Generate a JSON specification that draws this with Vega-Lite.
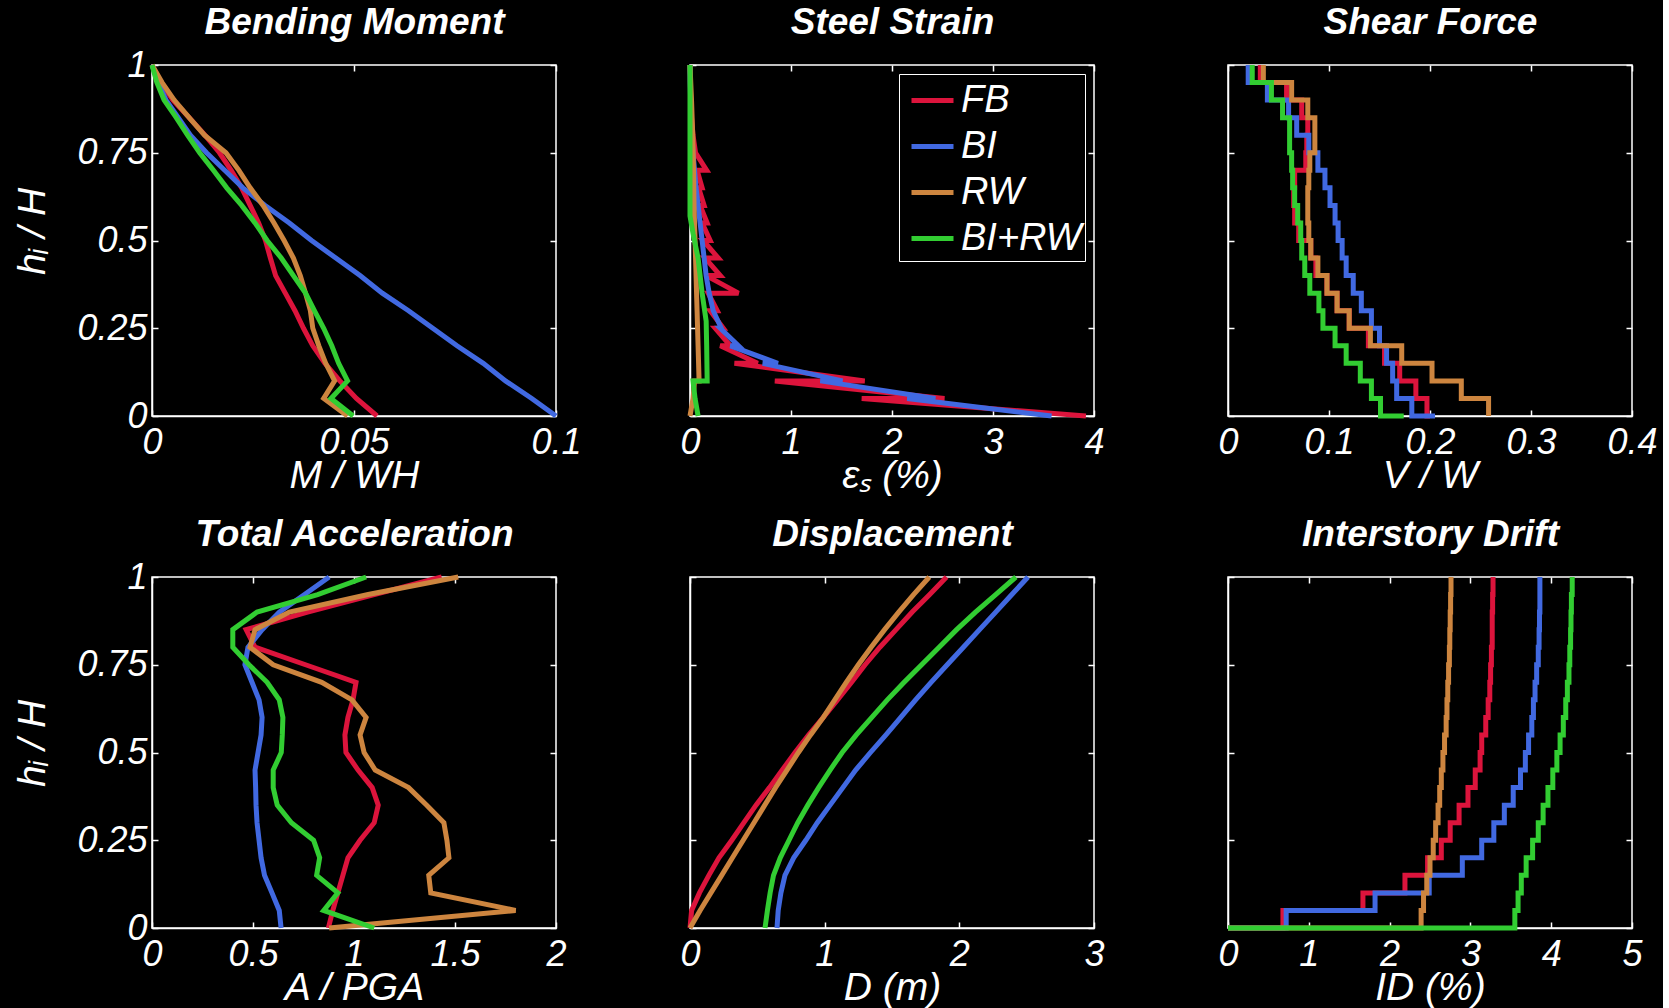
{
"$schema": "https://vega.github.io/schema/vega-lite/v6.json",
"background": "black",
"padding": {"left": 12, "top": 2, "right": 5, "bottom": 2},
"columns": 3,
"bounds": "flush",
"spacing": {"row": 161, "column": 134},
"resolve": {"scale": {"color": "independent"}, "legend": {"color": "independent"}},
"datasets": {
"bm": [
{"s":"FB","x":0.0557,"y":0},{"s":"FB","x":0.0506,"y":0.05},{"s":"FB","x":0.0465,"y":0.1},{"s":"FB","x":0.0428,"y":0.15},{"s":"FB","x":0.0398,"y":0.2},{"s":"FB","x":0.0375,"y":0.25},{"s":"FB","x":0.0354,"y":0.3},{"s":"FB","x":0.033,"y":0.35},{"s":"FB","x":0.0306,"y":0.4},{"s":"FB","x":0.0293,"y":0.45},{"s":"FB","x":0.0281,"y":0.5},{"s":"FB","x":0.0264,"y":0.55},{"s":"FB","x":0.0243,"y":0.6},{"s":"FB","x":0.0222,"y":0.65},{"s":"FB","x":0.0196,"y":0.7},{"s":"FB","x":0.0167,"y":0.75},{"s":"FB","x":0.0131,"y":0.8},{"s":"FB","x":0.0092,"y":0.85},{"s":"FB","x":0.0052,"y":0.9},{"s":"FB","x":0.0022,"y":0.95},{"s":"FB","x":0,"y":1},
{"s":"BI","x":0.1,"y":0},{"s":"BI","x":0.094,"y":0.05},{"s":"BI","x":0.0875,"y":0.1},{"s":"BI","x":0.082,"y":0.15},{"s":"BI","x":0.0755,"y":0.2},{"s":"BI","x":0.0695,"y":0.25},{"s":"BI","x":0.0635,"y":0.3},{"s":"BI","x":0.057,"y":0.35},{"s":"BI","x":0.0515,"y":0.4},{"s":"BI","x":0.0455,"y":0.45},{"s":"BI","x":0.0395,"y":0.5},{"s":"BI","x":0.034,"y":0.55},{"s":"BI","x":0.028,"y":0.6},{"s":"BI","x":0.0225,"y":0.65},{"s":"BI","x":0.018,"y":0.7},{"s":"BI","x":0.0135,"y":0.75},{"s":"BI","x":0.0095,"y":0.8},{"s":"BI","x":0.0065,"y":0.85},{"s":"BI","x":0.0035,"y":0.9},{"s":"BI","x":0.0015,"y":0.95},{"s":"BI","x":0,"y":1},
{"s":"RW","x":0.0484,"y":0},{"s":"RW","x":0.0425,"y":0.05},{"s":"RW","x":0.0452,"y":0.1},{"s":"RW","x":0.043,"y":0.15},{"s":"RW","x":0.0413,"y":0.2},{"s":"RW","x":0.0398,"y":0.25},{"s":"RW","x":0.0392,"y":0.3},{"s":"RW","x":0.038,"y":0.35},{"s":"RW","x":0.0367,"y":0.4},{"s":"RW","x":0.035,"y":0.45},{"s":"RW","x":0.0327,"y":0.5},{"s":"RW","x":0.0302,"y":0.55},{"s":"RW","x":0.0275,"y":0.6},{"s":"RW","x":0.0243,"y":0.65},{"s":"RW","x":0.0215,"y":0.7},{"s":"RW","x":0.0183,"y":0.75},{"s":"RW","x":0.013,"y":0.8},{"s":"RW","x":0.0092,"y":0.85},{"s":"RW","x":0.0055,"y":0.9},{"s":"RW","x":0.0025,"y":0.95},{"s":"RW","x":0,"y":1},
{"s":"BI+RW","x":0.0498,"y":0},{"s":"BI+RW","x":0.0443,"y":0.05},{"s":"BI+RW","x":0.0484,"y":0.1},{"s":"BI+RW","x":0.0462,"y":0.15},{"s":"BI+RW","x":0.0445,"y":0.2},{"s":"BI+RW","x":0.0425,"y":0.25},{"s":"BI+RW","x":0.0402,"y":0.3},{"s":"BI+RW","x":0.038,"y":0.35},{"s":"BI+RW","x":0.035,"y":0.4},{"s":"BI+RW","x":0.032,"y":0.45},{"s":"BI+RW","x":0.0285,"y":0.5},{"s":"BI+RW","x":0.0255,"y":0.55},{"s":"BI+RW","x":0.0222,"y":0.6},{"s":"BI+RW","x":0.0185,"y":0.65},{"s":"BI+RW","x":0.0152,"y":0.7},{"s":"BI+RW","x":0.0118,"y":0.75},{"s":"BI+RW","x":0.0088,"y":0.8},{"s":"BI+RW","x":0.006,"y":0.85},{"s":"BI+RW","x":0.003,"y":0.9},{"s":"BI+RW","x":0.0012,"y":0.95},{"s":"BI+RW","x":0,"y":1}
],
"ss": [
{"s":"FB","i":0,"x":3.92,"y":0},{"s":"FB","i":1,"x":1.70,"y":0.05},{"s":"FB","i":2,"x":2.52,"y":0.05},{"s":"FB","i":3,"x":0.84,"y":0.1},{"s":"FB","i":4,"x":1.73,"y":0.1},{"s":"FB","i":5,"x":0.44,"y":0.15},{"s":"FB","i":6,"x":0.67,"y":0.15},{"s":"FB","i":7,"x":0.30,"y":0.2},{"s":"FB","i":8,"x":0.40,"y":0.2},{"s":"FB","i":9,"x":0.25,"y":0.25},{"s":"FB","i":10,"x":0.33,"y":0.25},{"s":"FB","i":11,"x":0.20,"y":0.3},{"s":"FB","i":12,"x":0.27,"y":0.3},{"s":"FB","i":13,"x":0.18,"y":0.35},{"s":"FB","i":14,"x":0.48,"y":0.35},{"s":"FB","i":15,"x":0.16,"y":0.4},{"s":"FB","i":16,"x":0.30,"y":0.4},{"s":"FB","i":17,"x":0.15,"y":0.45},{"s":"FB","i":18,"x":0.28,"y":0.45},{"s":"FB","i":19,"x":0.13,"y":0.5},{"s":"FB","i":20,"x":0.20,"y":0.5},{"s":"FB","i":21,"x":0.12,"y":0.55},{"s":"FB","i":22,"x":0.17,"y":0.55},{"s":"FB","i":23,"x":0.10,"y":0.6},{"s":"FB","i":24,"x":0.14,"y":0.6},{"s":"FB","i":25,"x":0.085,"y":0.65},{"s":"FB","i":26,"x":0.12,"y":0.65},{"s":"FB","i":27,"x":0.07,"y":0.7},{"s":"FB","i":28,"x":0.165,"y":0.7},{"s":"FB","i":29,"x":0.055,"y":0.75},{"s":"FB","i":30,"x":0.03,"y":0.8},{"s":"FB","i":31,"x":0.015,"y":0.85},{"s":"FB","i":32,"x":0.008,"y":0.9},{"s":"FB","i":33,"x":0.003,"y":0.95},{"s":"FB","i":34,"x":0,"y":1},
{"s":"BI","i":0,"x":3.58,"y":0},{"s":"BI","i":1,"x":2.15,"y":0.05},{"s":"BI","i":2,"x":2.43,"y":0.05},{"s":"BI","i":3,"x":1.29,"y":0.1},{"s":"BI","i":4,"x":1.51,"y":0.1},{"s":"BI","i":5,"x":0.72,"y":0.15},{"s":"BI","i":6,"x":0.87,"y":0.15},{"s":"BI","i":7,"x":0.40,"y":0.2},{"s":"BI","i":8,"x":0.48,"y":0.2},{"s":"BI","i":9,"x":0.30,"y":0.25},{"s":"BI","i":10,"x":0.31,"y":0.25},{"s":"BI","i":11,"x":0.23,"y":0.3},{"s":"BI","i":12,"x":0.19,"y":0.35},{"s":"BI","i":13,"x":0.16,"y":0.4},{"s":"BI","i":14,"x":0.14,"y":0.45},{"s":"BI","i":15,"x":0.12,"y":0.5},{"s":"BI","i":16,"x":0.10,"y":0.55},{"s":"BI","i":17,"x":0.08,"y":0.6},{"s":"BI","i":18,"x":0.06,"y":0.65},{"s":"BI","i":19,"x":0.045,"y":0.7},{"s":"BI","i":20,"x":0.03,"y":0.75},{"s":"BI","i":21,"x":0.02,"y":0.8},{"s":"BI","i":22,"x":0.012,"y":0.85},{"s":"BI","i":23,"x":0.006,"y":0.9},{"s":"BI","i":24,"x":0.002,"y":0.95},{"s":"BI","i":25,"x":0,"y":1},
{"s":"RW","i":0,"x":0,"y":0},{"s":"RW","i":1,"x":0.03,"y":0.05},{"s":"RW","i":2,"x":0.045,"y":0.1},{"s":"RW","i":3,"x":0.09,"y":0.1},{"s":"RW","i":4,"x":0.08,"y":0.2},{"s":"RW","i":5,"x":0.07,"y":0.3},{"s":"RW","i":6,"x":0.06,"y":0.4},{"s":"RW","i":7,"x":0.05,"y":0.5},{"s":"RW","i":8,"x":0.04,"y":0.6},{"s":"RW","i":9,"x":0.035,"y":0.7},{"s":"RW","i":10,"x":0.027,"y":0.8},{"s":"RW","i":11,"x":0.015,"y":0.9},{"s":"RW","i":12,"x":0,"y":1},
{"s":"BI+RW","i":0,"x":0.08,"y":0},{"s":"BI+RW","i":1,"x":0.05,"y":0.05},{"s":"BI+RW","i":2,"x":0.03,"y":0.1},{"s":"BI+RW","i":3,"x":0.17,"y":0.1},{"s":"BI+RW","i":4,"x":0.165,"y":0.2},{"s":"BI+RW","i":5,"x":0.16,"y":0.27},{"s":"BI+RW","i":6,"x":0.12,"y":0.35},{"s":"BI+RW","i":7,"x":0.08,"y":0.45},{"s":"BI+RW","i":8,"x":0.03,"y":0.52},{"s":"BI+RW","i":9,"x":0,"y":0.57},{"s":"BI+RW","i":10,"x":0,"y":1}
],
"sf": [
{"s":"FB","i":0,"x":0.200,"y":0},{"s":"FB","i":1,"x":0.197,"y":0},{"s":"FB","i":2,"x":0.186,"y":0.05},{"s":"FB","i":3,"x":0.170,"y":0.1},{"s":"FB","i":4,"x":0.155,"y":0.15},{"s":"FB","i":5,"x":0.139,"y":0.2},{"s":"FB","i":6,"x":0.120,"y":0.25},{"s":"FB","i":7,"x":0.108,"y":0.3},{"s":"FB","i":8,"x":0.098,"y":0.35},{"s":"FB","i":9,"x":0.087,"y":0.4},{"s":"FB","i":10,"x":0.082,"y":0.45},{"s":"FB","i":11,"x":0.070,"y":0.5},{"s":"FB","i":12,"x":0.066,"y":0.55},{"s":"FB","i":13,"x":0.065,"y":0.6},{"s":"FB","i":14,"x":0.066,"y":0.65},{"s":"FB","i":15,"x":0.077,"y":0.7},{"s":"FB","i":16,"x":0.078,"y":0.75},{"s":"FB","i":17,"x":0.079,"y":0.8},{"s":"FB","i":18,"x":0.073,"y":0.85},{"s":"FB","i":19,"x":0.058,"y":0.9},{"s":"FB","i":20,"x":0.032,"y":0.95},{"s":"FB","i":21,"x":0.032,"y":1},
{"s":"BI","i":0,"x":0.205,"y":0},{"s":"BI","i":1,"x":0.182,"y":0},{"s":"BI","i":2,"x":0.167,"y":0.05},{"s":"BI","i":3,"x":0.163,"y":0.1},{"s":"BI","i":4,"x":0.157,"y":0.15},{"s":"BI","i":5,"x":0.150,"y":0.2},{"s":"BI","i":6,"x":0.142,"y":0.25},{"s":"BI","i":7,"x":0.132,"y":0.3},{"s":"BI","i":8,"x":0.124,"y":0.35},{"s":"BI","i":9,"x":0.117,"y":0.4},{"s":"BI","i":10,"x":0.113,"y":0.45},{"s":"BI","i":11,"x":0.109,"y":0.5},{"s":"BI","i":12,"x":0.106,"y":0.55},{"s":"BI","i":13,"x":0.101,"y":0.6},{"s":"BI","i":14,"x":0.096,"y":0.65},{"s":"BI","i":15,"x":0.089,"y":0.7},{"s":"BI","i":16,"x":0.080,"y":0.75},{"s":"BI","i":17,"x":0.068,"y":0.8},{"s":"BI","i":18,"x":0.060,"y":0.85},{"s":"BI","i":19,"x":0.039,"y":0.9},{"s":"BI","i":20,"x":0.020,"y":0.95},{"s":"BI","i":21,"x":0.020,"y":1},
{"s":"RW","i":0,"x":0.258,"y":0},{"s":"RW","i":1,"x":0.258,"y":0},{"s":"RW","i":2,"x":0.231,"y":0.05},{"s":"RW","i":3,"x":0.202,"y":0.1},{"s":"RW","i":4,"x":0.172,"y":0.15},{"s":"RW","i":5,"x":0.141,"y":0.2},{"s":"RW","i":6,"x":0.120,"y":0.25},{"s":"RW","i":7,"x":0.108,"y":0.3},{"s":"RW","i":8,"x":0.098,"y":0.35},{"s":"RW","i":9,"x":0.089,"y":0.4},{"s":"RW","i":10,"x":0.082,"y":0.45},{"s":"RW","i":11,"x":0.080,"y":0.5},{"s":"RW","i":12,"x":0.079,"y":0.55},{"s":"RW","i":13,"x":0.079,"y":0.6},{"s":"RW","i":14,"x":0.080,"y":0.65},{"s":"RW","i":15,"x":0.081,"y":0.7},{"s":"RW","i":16,"x":0.086,"y":0.75},{"s":"RW","i":17,"x":0.086,"y":0.8},{"s":"RW","i":18,"x":0.079,"y":0.85},{"s":"RW","i":19,"x":0.063,"y":0.9},{"s":"RW","i":20,"x":0.035,"y":0.95},{"s":"RW","i":21,"x":0.035,"y":1},
{"s":"BI+RW","i":0,"x":0.174,"y":0},{"s":"BI+RW","i":1,"x":0.151,"y":0},{"s":"BI+RW","i":2,"x":0.142,"y":0.05},{"s":"BI+RW","i":3,"x":0.131,"y":0.1},{"s":"BI+RW","i":4,"x":0.117,"y":0.15},{"s":"BI+RW","i":5,"x":0.106,"y":0.2},{"s":"BI+RW","i":6,"x":0.094,"y":0.25},{"s":"BI+RW","i":7,"x":0.090,"y":0.3},{"s":"BI+RW","i":8,"x":0.081,"y":0.35},{"s":"BI+RW","i":9,"x":0.076,"y":0.4},{"s":"BI+RW","i":10,"x":0.073,"y":0.45},{"s":"BI+RW","i":11,"x":0.072,"y":0.5},{"s":"BI+RW","i":12,"x":0.069,"y":0.55},{"s":"BI+RW","i":13,"x":0.066,"y":0.6},{"s":"BI+RW","i":14,"x":0.064,"y":0.65},{"s":"BI+RW","i":15,"x":0.063,"y":0.7},{"s":"BI+RW","i":16,"x":0.061,"y":0.75},{"s":"BI+RW","i":17,"x":0.061,"y":0.8},{"s":"BI+RW","i":18,"x":0.054,"y":0.85},{"s":"BI+RW","i":19,"x":0.043,"y":0.9},{"s":"BI+RW","i":20,"x":0.024,"y":0.95},{"s":"BI+RW","i":21,"x":0.024,"y":1}
],
"ta": [
{"s":"FB","x":0.873,"y":0},{"s":"FB","x":0.895,"y":0.05},{"s":"FB","x":0.92,"y":0.1},{"s":"FB","x":0.945,"y":0.15},{"s":"FB","x":0.97,"y":0.2},{"s":"FB","x":1.03,"y":0.25},{"s":"FB","x":1.10,"y":0.3},{"s":"FB","x":1.12,"y":0.35},{"s":"FB","x":1.09,"y":0.4},{"s":"FB","x":1.02,"y":0.45},{"s":"FB","x":0.96,"y":0.5},{"s":"FB","x":0.955,"y":0.55},{"s":"FB","x":0.97,"y":0.6},{"s":"FB","x":0.995,"y":0.65},{"s":"FB","x":1.01,"y":0.7},{"s":"FB","x":0.76,"y":0.75},{"s":"FB","x":0.51,"y":0.8},{"s":"FB","x":0.466,"y":0.85},{"s":"FB","x":0.77,"y":0.9},{"s":"FB","x":1.10,"y":0.95},{"s":"FB","x":1.434,"y":1},
{"s":"BI","x":0.639,"y":0},{"s":"BI","x":0.63,"y":0.05},{"s":"BI","x":0.594,"y":0.1},{"s":"BI","x":0.557,"y":0.15},{"s":"BI","x":0.54,"y":0.2},{"s":"BI","x":0.53,"y":0.25},{"s":"BI","x":0.52,"y":0.3},{"s":"BI","x":0.515,"y":0.35},{"s":"BI","x":0.513,"y":0.4},{"s":"BI","x":0.51,"y":0.45},{"s":"BI","x":0.525,"y":0.5},{"s":"BI","x":0.54,"y":0.55},{"s":"BI","x":0.545,"y":0.6},{"s":"BI","x":0.53,"y":0.65},{"s":"BI","x":0.495,"y":0.7},{"s":"BI","x":0.46,"y":0.75},{"s":"BI","x":0.475,"y":0.8},{"s":"BI","x":0.545,"y":0.85},{"s":"BI","x":0.63,"y":0.9},{"s":"BI","x":0.755,"y":0.95},{"s":"BI","x":0.877,"y":1},
{"s":"RW","x":0.877,"y":0},{"s":"RW","x":1.80,"y":0.05},{"s":"RW","x":1.38,"y":0.1},{"s":"RW","x":1.37,"y":0.15},{"s":"RW","x":1.47,"y":0.2},{"s":"RW","x":1.46,"y":0.25},{"s":"RW","x":1.445,"y":0.3},{"s":"RW","x":1.36,"y":0.35},{"s":"RW","x":1.27,"y":0.4},{"s":"RW","x":1.105,"y":0.45},{"s":"RW","x":1.05,"y":0.5},{"s":"RW","x":1.03,"y":0.55},{"s":"RW","x":1.06,"y":0.6},{"s":"RW","x":0.99,"y":0.65},{"s":"RW","x":0.84,"y":0.7},{"s":"RW","x":0.60,"y":0.75},{"s":"RW","x":0.485,"y":0.8},{"s":"RW","x":0.51,"y":0.85},{"s":"RW","x":0.68,"y":0.9},{"s":"RW","x":1.07,"y":0.95},{"s":"RW","x":1.516,"y":1},
{"s":"BI+RW","x":1.10,"y":0},{"s":"BI+RW","x":0.85,"y":0.05},{"s":"BI+RW","x":0.92,"y":0.1},{"s":"BI+RW","x":0.815,"y":0.15},{"s":"BI+RW","x":0.83,"y":0.2},{"s":"BI+RW","x":0.80,"y":0.25},{"s":"BI+RW","x":0.69,"y":0.3},{"s":"BI+RW","x":0.62,"y":0.35},{"s":"BI+RW","x":0.60,"y":0.4},{"s":"BI+RW","x":0.60,"y":0.45},{"s":"BI+RW","x":0.64,"y":0.5},{"s":"BI+RW","x":0.645,"y":0.55},{"s":"BI+RW","x":0.648,"y":0.6},{"s":"BI+RW","x":0.63,"y":0.65},{"s":"BI+RW","x":0.57,"y":0.7},{"s":"BI+RW","x":0.48,"y":0.75},{"s":"BI+RW","x":0.40,"y":0.8},{"s":"BI+RW","x":0.40,"y":0.85},{"s":"BI+RW","x":0.52,"y":0.9},{"s":"BI+RW","x":0.82,"y":0.95},{"s":"BI+RW","x":1.06,"y":1}
],
"dp": [
{"s":"FB","x":0,"y":0},{"s":"FB","x":0.012,"y":0.05},{"s":"FB","x":0.07,"y":0.1},{"s":"FB","x":0.14,"y":0.15},{"s":"FB","x":0.215,"y":0.2},{"s":"FB","x":0.31,"y":0.25},{"s":"FB","x":0.40,"y":0.3},{"s":"FB","x":0.49,"y":0.35},{"s":"FB","x":0.59,"y":0.4},{"s":"FB","x":0.685,"y":0.45},{"s":"FB","x":0.78,"y":0.5},{"s":"FB","x":0.88,"y":0.55},{"s":"FB","x":0.99,"y":0.6},{"s":"FB","x":1.095,"y":0.65},{"s":"FB","x":1.20,"y":0.7},{"s":"FB","x":1.30,"y":0.75},{"s":"FB","x":1.41,"y":0.8},{"s":"FB","x":1.53,"y":0.85},{"s":"FB","x":1.65,"y":0.9},{"s":"FB","x":1.78,"y":0.95},{"s":"FB","x":1.905,"y":1},
{"s":"BI","x":0.646,"y":0},{"s":"BI","x":0.655,"y":0.05},{"s":"BI","x":0.675,"y":0.1},{"s":"BI","x":0.705,"y":0.15},{"s":"BI","x":0.77,"y":0.2},{"s":"BI","x":0.86,"y":0.25},{"s":"BI","x":0.945,"y":0.3},{"s":"BI","x":1.04,"y":0.35},{"s":"BI","x":1.135,"y":0.4},{"s":"BI","x":1.23,"y":0.45},{"s":"BI","x":1.34,"y":0.5},{"s":"BI","x":1.455,"y":0.55},{"s":"BI","x":1.565,"y":0.6},{"s":"BI","x":1.675,"y":0.65},{"s":"BI","x":1.79,"y":0.7},{"s":"BI","x":1.91,"y":0.75},{"s":"BI","x":2.03,"y":0.8},{"s":"BI","x":2.15,"y":0.85},{"s":"BI","x":2.27,"y":0.9},{"s":"BI","x":2.39,"y":0.95},{"s":"BI","x":2.51,"y":1},
{"s":"RW","x":0,"y":0},{"s":"RW","x":0.075,"y":0.05},{"s":"RW","x":0.155,"y":0.1},{"s":"RW","x":0.235,"y":0.15},{"s":"RW","x":0.315,"y":0.2},{"s":"RW","x":0.395,"y":0.25},{"s":"RW","x":0.475,"y":0.3},{"s":"RW","x":0.555,"y":0.35},{"s":"RW","x":0.635,"y":0.4},{"s":"RW","x":0.72,"y":0.45},{"s":"RW","x":0.805,"y":0.5},{"s":"RW","x":0.895,"y":0.55},{"s":"RW","x":0.99,"y":0.6},{"s":"RW","x":1.075,"y":0.65},{"s":"RW","x":1.16,"y":0.7},{"s":"RW","x":1.25,"y":0.75},{"s":"RW","x":1.345,"y":0.8},{"s":"RW","x":1.445,"y":0.85},{"s":"RW","x":1.55,"y":0.9},{"s":"RW","x":1.66,"y":0.95},{"s":"RW","x":1.777,"y":1},
{"s":"BI+RW","x":0.557,"y":0},{"s":"BI+RW","x":0.575,"y":0.05},{"s":"BI+RW","x":0.595,"y":0.1},{"s":"BI+RW","x":0.62,"y":0.15},{"s":"BI+RW","x":0.67,"y":0.2},{"s":"BI+RW","x":0.735,"y":0.25},{"s":"BI+RW","x":0.80,"y":0.3},{"s":"BI+RW","x":0.875,"y":0.35},{"s":"BI+RW","x":0.955,"y":0.4},{"s":"BI+RW","x":1.04,"y":0.45},{"s":"BI+RW","x":1.13,"y":0.5},{"s":"BI+RW","x":1.235,"y":0.55},{"s":"BI+RW","x":1.35,"y":0.6},{"s":"BI+RW","x":1.465,"y":0.65},{"s":"BI+RW","x":1.59,"y":0.7},{"s":"BI+RW","x":1.72,"y":0.75},{"s":"BI+RW","x":1.85,"y":0.8},{"s":"BI+RW","x":1.98,"y":0.85},{"s":"BI+RW","x":2.12,"y":0.9},{"s":"BI+RW","x":2.27,"y":0.95},{"s":"BI+RW","x":2.42,"y":1}
],
"id": [
{"s":"FB","i":0,"x":0,"y":0},{"s":"FB","i":1,"x":0.68,"y":0},{"s":"FB","i":2,"x":1.67,"y":0.05},{"s":"FB","i":3,"x":2.19,"y":0.1},{"s":"FB","i":4,"x":2.47,"y":0.15},{"s":"FB","i":5,"x":2.64,"y":0.2},{"s":"FB","i":6,"x":2.75,"y":0.25},{"s":"FB","i":7,"x":2.86,"y":0.3},{"s":"FB","i":8,"x":2.97,"y":0.35},{"s":"FB","i":9,"x":3.06,"y":0.4},{"s":"FB","i":10,"x":3.12,"y":0.45},{"s":"FB","i":11,"x":3.14,"y":0.5},{"s":"FB","i":12,"x":3.19,"y":0.55},{"s":"FB","i":13,"x":3.22,"y":0.6},{"s":"FB","i":14,"x":3.24,"y":0.65},{"s":"FB","i":15,"x":3.25,"y":0.7},{"s":"FB","i":16,"x":3.26,"y":0.75},{"s":"FB","i":17,"x":3.27,"y":0.8},{"s":"FB","i":18,"x":3.27,"y":0.85},{"s":"FB","i":19,"x":3.275,"y":0.9},{"s":"FB","i":20,"x":3.28,"y":0.95},{"s":"FB","i":21,"x":3.28,"y":1},
{"s":"BI","i":0,"x":0,"y":0},{"s":"BI","i":1,"x":0.72,"y":0},{"s":"BI","i":2,"x":1.82,"y":0.05},{"s":"BI","i":3,"x":2.49,"y":0.1},{"s":"BI","i":4,"x":2.90,"y":0.15},{"s":"BI","i":5,"x":3.14,"y":0.2},{"s":"BI","i":6,"x":3.29,"y":0.25},{"s":"BI","i":7,"x":3.42,"y":0.3},{"s":"BI","i":8,"x":3.53,"y":0.35},{"s":"BI","i":9,"x":3.62,"y":0.4},{"s":"BI","i":10,"x":3.68,"y":0.45},{"s":"BI","i":11,"x":3.72,"y":0.5},{"s":"BI","i":12,"x":3.76,"y":0.55},{"s":"BI","i":13,"x":3.78,"y":0.6},{"s":"BI","i":14,"x":3.80,"y":0.65},{"s":"BI","i":15,"x":3.82,"y":0.7},{"s":"BI","i":16,"x":3.84,"y":0.75},{"s":"BI","i":17,"x":3.85,"y":0.8},{"s":"BI","i":18,"x":3.855,"y":0.85},{"s":"BI","i":19,"x":3.86,"y":0.9},{"s":"BI","i":20,"x":3.86,"y":0.95},{"s":"BI","i":21,"x":3.86,"y":1},
{"s":"RW","i":0,"x":0,"y":0},{"s":"RW","i":1,"x":2.39,"y":0},{"s":"RW","i":2,"x":2.42,"y":0.05},{"s":"RW","i":3,"x":2.46,"y":0.1},{"s":"RW","i":4,"x":2.50,"y":0.15},{"s":"RW","i":5,"x":2.54,"y":0.2},{"s":"RW","i":6,"x":2.57,"y":0.25},{"s":"RW","i":7,"x":2.60,"y":0.3},{"s":"RW","i":8,"x":2.62,"y":0.35},{"s":"RW","i":9,"x":2.64,"y":0.4},{"s":"RW","i":10,"x":2.66,"y":0.45},{"s":"RW","i":11,"x":2.68,"y":0.5},{"s":"RW","i":12,"x":2.70,"y":0.55},{"s":"RW","i":13,"x":2.71,"y":0.6},{"s":"RW","i":14,"x":2.72,"y":0.65},{"s":"RW","i":15,"x":2.73,"y":0.7},{"s":"RW","i":16,"x":2.74,"y":0.75},{"s":"RW","i":17,"x":2.745,"y":0.8},{"s":"RW","i":18,"x":2.75,"y":0.85},{"s":"RW","i":19,"x":2.755,"y":0.9},{"s":"RW","i":20,"x":2.76,"y":0.95},{"s":"RW","i":21,"x":2.76,"y":1},
{"s":"BI+RW","i":0,"x":0,"y":0},{"s":"BI+RW","i":1,"x":3.55,"y":0},{"s":"BI+RW","i":2,"x":3.59,"y":0.05},{"s":"BI+RW","i":3,"x":3.63,"y":0.1},{"s":"BI+RW","i":4,"x":3.69,"y":0.15},{"s":"BI+RW","i":5,"x":3.77,"y":0.2},{"s":"BI+RW","i":6,"x":3.84,"y":0.25},{"s":"BI+RW","i":7,"x":3.90,"y":0.3},{"s":"BI+RW","i":8,"x":3.96,"y":0.35},{"s":"BI+RW","i":9,"x":4.02,"y":0.4},{"s":"BI+RW","i":10,"x":4.07,"y":0.45},{"s":"BI+RW","i":11,"x":4.11,"y":0.5},{"s":"BI+RW","i":12,"x":4.15,"y":0.55},{"s":"BI+RW","i":13,"x":4.18,"y":0.6},{"s":"BI+RW","i":14,"x":4.20,"y":0.65},{"s":"BI+RW","i":15,"x":4.22,"y":0.7},{"s":"BI+RW","i":16,"x":4.23,"y":0.75},{"s":"BI+RW","i":17,"x":4.24,"y":0.8},{"s":"BI+RW","i":18,"x":4.245,"y":0.85},{"s":"BI+RW","i":19,"x":4.25,"y":0.9},{"s":"BI+RW","i":20,"x":4.26,"y":0.95},{"s":"BI+RW","i":21,"x":4.26,"y":1}
]
},
"concat": [
{
"width": 404, "height": 351, "data": {"name": "bm"},
"layer": [
{"mark": {"type": "line", "strokeWidth": 5},
"encoding": {
"x": {"field": "x", "type": "quantitative", "scale": {"domain": [0, 0.1], "nice": false, "zero": false}, "axis": {"values": [0, 0.05, 0.1], "format": ".4~g", "title": "M / WH", "titleX": 202, "titleY": 71}},
"y": {"field": "y", "type": "quantitative", "scale": {"domain": [0, 1], "nice": false}, "axis": {"values": [0, 0.25, 0.5, 0.75, 1], "format": ".4~g", "title": "hᵢ / H", "titleX": -108, "titleY": 166}},
"color": {"field": "s", "type": "nominal", "scale": {"domain": ["FB", "BI", "RW", "BI+RW"], "range": ["#DC143C", "#4169E1", "#CD853F", "#32CD32"]}, "legend": null},
"order": {"field": "y", "type": "quantitative"}}},
{"mark": {"type": "line", "opacity": 0},
"encoding": {
"x": {"field": "x", "type": "quantitative", "axis": {"orient": "top", "values": [0, 0.05, 0.1], "labels": false, "domain": false, "title": "Bending Moment", "titleX": 202, "titleY": -32, "titleFontWeight": "bold", "titleFontSize": 37, "titleAlign": "center", "titleAngle": 0}},
"y": {"field": "y", "type": "quantitative", "axis": {"orient": "right", "values": [0, 0.25, 0.5, 0.75, 1], "labels": false, "title": null, "domain": false}}}}
],
"resolve": {"axis": {"x": "independent", "y": "independent"}}
},
{
"width": 404, "height": 351, "data": {"name": "ss"},
"layer": [
{"mark": {"type": "line", "strokeWidth": 5},
"encoding": {
"x": {"field": "x", "type": "quantitative", "scale": {"domain": [0, 4], "nice": false, "zero": false}, "axis": {"values": [0, 1, 2, 3, 4], "format": ".4~g", "title": "εₛ (%)", "titleX": 202, "titleY": 71}},
"y": {"field": "y", "type": "quantitative", "scale": {"domain": [0, 1], "nice": false}, "axis": {"values": [0, 0.25, 0.5, 0.75, 1], "labels": false, "title": null}},
"color": {"field": "s", "type": "nominal", "scale": {"domain": ["FB", "BI", "RW", "BI+RW"], "range": ["#DC143C", "#4169E1", "#CD853F", "#32CD32"]},
 "legend": {"orient": "top-right", "offset": 9, "title": null, "strokeColor": "white", "fillColor": "black", "padding": 3, "rowPadding": 3, "symbolOffset": 7, "labelOffset": 5, "symbolType": "stroke", "symbolStrokeWidth": 5, "symbolSize": 1764, "labelFontSize": 38, "labelFont": "Liberation Sans", "labelFontStyle": "italic", "labelColor": "white"}},
"order": {"field": "i", "type": "quantitative"}}},
{"mark": {"type": "line", "opacity": 0},
"encoding": {
"x": {"field": "x", "type": "quantitative", "axis": {"orient": "top", "values": [0, 1, 2, 3, 4], "labels": false, "domain": false, "title": "Steel Strain", "titleX": 202, "titleY": -32, "titleFontWeight": "bold", "titleFontSize": 37, "titleAlign": "center", "titleAngle": 0}},
"y": {"field": "y", "type": "quantitative", "axis": {"orient": "right", "values": [0, 0.25, 0.5, 0.75, 1], "labels": false, "title": null, "domain": false}}}}
],
"resolve": {"axis": {"x": "independent", "y": "independent"}}
},
{
"width": 404, "height": 351, "data": {"name": "sf"},
"layer": [
{"mark": {"type": "line", "strokeWidth": 5, "interpolate": "step-before"},
"encoding": {
"x": {"field": "x", "type": "quantitative", "scale": {"domain": [0, 0.4], "nice": false, "zero": false}, "axis": {"values": [0, 0.1, 0.2, 0.3, 0.4], "format": ".4~g", "title": "V / W", "titleX": 202, "titleY": 71}},
"y": {"field": "y", "type": "quantitative", "scale": {"domain": [0, 1], "nice": false}, "axis": {"values": [0, 0.25, 0.5, 0.75, 1], "labels": false, "title": null}},
"color": {"field": "s", "type": "nominal", "scale": {"domain": ["FB", "BI", "RW", "BI+RW"], "range": ["#DC143C", "#4169E1", "#CD853F", "#32CD32"]}, "legend": null},
"order": {"field": "i", "type": "quantitative"}}},
{"mark": {"type": "line", "opacity": 0},
"encoding": {
"x": {"field": "x", "type": "quantitative", "axis": {"orient": "top", "values": [0, 0.1, 0.2, 0.3, 0.4], "labels": false, "domain": false, "title": "Shear Force", "titleX": 202, "titleY": -32, "titleFontWeight": "bold", "titleFontSize": 37, "titleAlign": "center", "titleAngle": 0}},
"y": {"field": "y", "type": "quantitative", "axis": {"orient": "right", "values": [0, 0.25, 0.5, 0.75, 1], "labels": false, "title": null, "domain": false}}}}
],
"resolve": {"axis": {"x": "independent", "y": "independent"}}
},
{
"width": 404, "height": 351, "data": {"name": "ta"},
"layer": [
{"mark": {"type": "line", "strokeWidth": 5},
"encoding": {
"x": {"field": "x", "type": "quantitative", "scale": {"domain": [0, 2], "nice": false, "zero": false}, "axis": {"values": [0, 0.5, 1, 1.5, 2], "format": ".4~g", "title": "A / PGA", "titleX": 202, "titleY": 71}},
"y": {"field": "y", "type": "quantitative", "scale": {"domain": [0, 1], "nice": false}, "axis": {"values": [0, 0.25, 0.5, 0.75, 1], "format": ".4~g", "title": "hᵢ / H", "titleX": -108, "titleY": 166}},
"color": {"field": "s", "type": "nominal", "scale": {"domain": ["FB", "BI", "RW", "BI+RW"], "range": ["#DC143C", "#4169E1", "#CD853F", "#32CD32"]}, "legend": null},
"order": {"field": "y", "type": "quantitative"}}},
{"mark": {"type": "line", "opacity": 0},
"encoding": {
"x": {"field": "x", "type": "quantitative", "axis": {"orient": "top", "values": [0, 0.5, 1, 1.5, 2], "labels": false, "domain": false, "title": "Total Acceleration", "titleX": 202, "titleY": -32, "titleFontWeight": "bold", "titleFontSize": 37, "titleAlign": "center", "titleAngle": 0}},
"y": {"field": "y", "type": "quantitative", "axis": {"orient": "right", "values": [0, 0.25, 0.5, 0.75, 1], "labels": false, "title": null, "domain": false}}}}
],
"resolve": {"axis": {"x": "independent", "y": "independent"}}
},
{
"width": 404, "height": 351, "data": {"name": "dp"},
"layer": [
{"mark": {"type": "line", "strokeWidth": 5},
"encoding": {
"x": {"field": "x", "type": "quantitative", "scale": {"domain": [0, 3], "nice": false, "zero": false}, "axis": {"values": [0, 1, 2, 3], "format": ".4~g", "title": "D (m)", "titleX": 202, "titleY": 71}},
"y": {"field": "y", "type": "quantitative", "scale": {"domain": [0, 1], "nice": false}, "axis": {"values": [0, 0.25, 0.5, 0.75, 1], "labels": false, "title": null}},
"color": {"field": "s", "type": "nominal", "scale": {"domain": ["FB", "BI", "RW", "BI+RW"], "range": ["#DC143C", "#4169E1", "#CD853F", "#32CD32"]}, "legend": null},
"order": {"field": "y", "type": "quantitative"}}},
{"mark": {"type": "line", "opacity": 0},
"encoding": {
"x": {"field": "x", "type": "quantitative", "axis": {"orient": "top", "values": [0, 1, 2, 3], "labels": false, "domain": false, "title": "Displacement", "titleX": 202, "titleY": -32, "titleFontWeight": "bold", "titleFontSize": 37, "titleAlign": "center", "titleAngle": 0}},
"y": {"field": "y", "type": "quantitative", "axis": {"orient": "right", "values": [0, 0.25, 0.5, 0.75, 1], "labels": false, "title": null, "domain": false}}}}
],
"resolve": {"axis": {"x": "independent", "y": "independent"}}
},
{
"width": 404, "height": 351, "data": {"name": "id"},
"layer": [
{"mark": {"type": "line", "strokeWidth": 5, "interpolate": "step-before"},
"encoding": {
"x": {"field": "x", "type": "quantitative", "scale": {"domain": [0, 5], "nice": false, "zero": false}, "axis": {"values": [0, 1, 2, 3, 4, 5], "format": ".4~g", "title": "ID (%)", "titleX": 202, "titleY": 71}},
"y": {"field": "y", "type": "quantitative", "scale": {"domain": [0, 1], "nice": false}, "axis": {"values": [0, 0.25, 0.5, 0.75, 1], "labels": false, "title": null}},
"color": {"field": "s", "type": "nominal", "scale": {"domain": ["FB", "BI", "RW", "BI+RW"], "range": ["#DC143C", "#4169E1", "#CD853F", "#32CD32"]}, "legend": null},
"order": {"field": "i", "type": "quantitative"}}},
{"mark": {"type": "line", "opacity": 0},
"encoding": {
"x": {"field": "x", "type": "quantitative", "axis": {"orient": "top", "values": [0, 1, 2, 3, 4, 5], "labels": false, "domain": false, "title": "Interstory Drift", "titleX": 202, "titleY": -32, "titleFontWeight": "bold", "titleFontSize": 37, "titleAlign": "center", "titleAngle": 0}},
"y": {"field": "y", "type": "quantitative", "axis": {"orient": "right", "values": [0, 0.25, 0.5, 0.75, 1], "labels": false, "title": null, "domain": false}}}}
],
"resolve": {"axis": {"x": "independent", "y": "independent"}}
}
],
"config": {
"view": {"stroke": "white", "strokeWidth": 1.5, "fill": "black"},
"axis": {"domainColor": "white", "domainWidth": 1.5, "tickColor": "white", "tickWidth": 1.5, "tickSize": -6, "labelColor": "white", "labelFont": "Liberation Sans", "labelFontStyle": "italic", "labelFontSize": 36, "labelPadding": 15, "labelFlush": false, "labelOverlap": false, "titleColor": "white", "titleFont": "Liberation Sans", "titleFontStyle": "italic", "titleFontWeight": "normal", "titleFontSize": 39, "titleBaseline": "alphabetic", "grid": false},
"axisY": {"labelPadding": 11}
}
}
